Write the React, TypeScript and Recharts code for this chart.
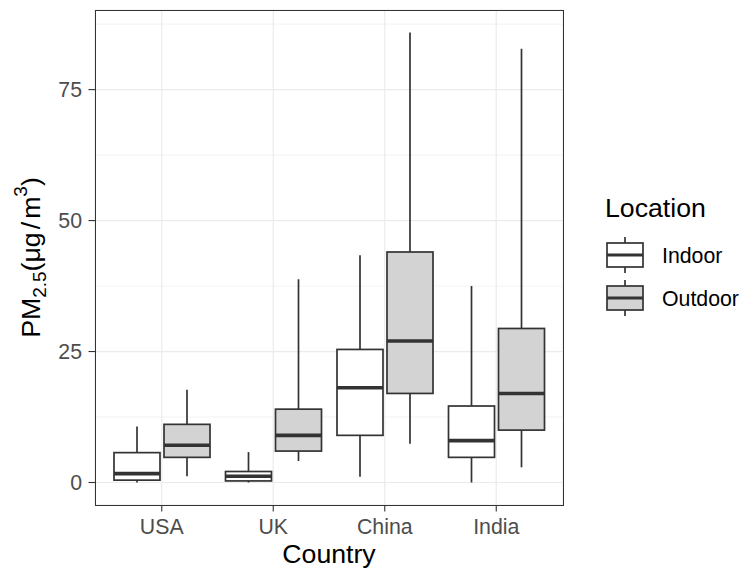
import React from 'react';
import {
  BarChart,
  Bar,
  XAxis,
  YAxis,
  CartesianGrid,
  Legend
} from 'recharts';

const countries = ['USA', 'UK', 'China', 'India'];

const indoorMin = [0, 0, 1.1, 0];
const indoorQ1 = [0.45, 0.3, 9.0, 4.8];
const indoorMedian = [1.7, 1.2, 18.1, 8.0];
const indoorQ3 = [5.7, 2.1, 25.4, 14.6];
const indoorMax = [10.7, 5.8, 43.4, 37.5];

const outdoorMin = [1.2, 4.1, 7.4, 2.9];
const outdoorQ1 = [4.8, 6.0, 17.0, 10.0];
const outdoorMedian = [7.1, 9.0, 27.0, 17.0];
const outdoorQ3 = [11.1, 14.0, 44.0, 29.4];
const outdoorMax = [17.7, 38.8, 85.9, 82.8];

const majorTicks = [0, 25, 50, 75];
const minorTicks = [12.5, 37.5, 62.5, 87.5];

const data = countries.map((country, i) => ({
  country,
  indoor: [indoorMin[i], indoorQ1[i], indoorMedian[i], indoorQ3[i], indoorMax[i]],
  outdoor: [outdoorMin[i], outdoorQ1[i], outdoorMedian[i], outdoorQ3[i], outdoorMax[i]]
}));

const FONT = '"Liberation Sans", Arial, Helvetica, sans-serif';
const INK = '#333333';

// box drawn inside the bar rect that spans whisker min..max
const BoxShape = (props: any) => {
  const { x, y, width, height, fill, payload, series } = props;
  if (x == null || y == null) return null;
  const [lo, q1, med, q3, hi] = payload[series];
  const top = Math.min(y, y + height);
  const bottom = Math.max(y, y + height);
  const pix = (v: number) => bottom - ((v - lo) / (hi - lo)) * (bottom - top);
  const cx = x + width / 2;
  return (
    <g>
      <line x1={cx} x2={cx} y1={top} y2={pix(q3)} stroke={INK} strokeWidth={1.7} />
      <line x1={cx} x2={cx} y1={pix(q1)} y2={bottom} stroke={INK} strokeWidth={1.7} />
      <rect
        x={x}
        y={pix(q3)}
        width={width}
        height={pix(q1) - pix(q3)}
        fill={fill}
        stroke={INK}
        strokeWidth={1.7}
      />
      <line x1={x} x2={x + width} y1={pix(med)} y2={pix(med)} stroke={INK} strokeWidth={3.6} />
    </g>
  );
};

const YTitle = (props: any) => {
  const vb = props.viewBox || { x: 0, y: 10, width: 95, height: 495 };
  const bx = 39.5;
  const cy = vb.y + vb.height / 2;
  return (
    <text
      x={bx}
      y={cy}
      transform={`rotate(-90, ${bx}, ${cy})`}
      textAnchor="middle"
      fontSize={26.7}
      fontFamily={FONT}
      fill="#000000"
    >
      <tspan>PM</tspan>
      <tspan fontSize={19} dy={6}>2.5</tspan>
      <tspan dy={-6}>(μg</tspan>
      <tspan dx={3}>/</tspan>
      <tspan dx={3}>m</tspan>
      <tspan fontSize={19} dy={-13}>3</tspan>
      <tspan dy={13}>)</tspan>
    </text>
  );
};

const LegendBox = (props: any) => {
  const items = props.payload || [];
  return (
    <svg width={144} height={140} style={{ display: 'block' }}>
      <text x={5} y={26.7} fontSize={26.7} fontFamily={FONT} fill="#000000">
        Location
      </text>
      {items.map((item: any, i: number) => {
        const c = 65 + i * 43;
        return (
          <g key={item.value}>
            <line x1={25} x2={25} y1={c - 18} y2={c + 18} stroke={INK} strokeWidth={1.7} />
            <rect x={7} y={c - 12} width={36} height={24} fill={item.color} stroke={INK} strokeWidth={1.7} />
            <line x1={7} x2={43} y1={c} y2={c} stroke={INK} strokeWidth={3.2} />
            <text x={62} y={c + 7.7} fontSize={21.3} fontFamily={FONT} fill="#000000">
              {item.value}
            </text>
          </g>
        );
      })}
    </svg>
  );
};

export default function App() {
  return (
    <div style={{ position: 'absolute', left: 0, top: 0, width: 744, height: 569, background: '#ffffff' }}>
      <BarChart
        width={744}
        height={569}
        data={data}
        margin={{ top: 10, right: 181, bottom: 0, left: 0 }}
        barSize={46}
        barGap={4}
        style={{ fontFamily: FONT }}
      >
        <CartesianGrid stroke="#EBEBEB" strokeWidth={0.6} vertical={false} horizontalValues={minorTicks} />
        <CartesianGrid stroke="#EBEBEB" strokeWidth={1.2} />
        <XAxis
          dataKey="country"
          type="category"
          padding={{ left: 11, right: 11 }}
          height={64}
          axisLine={false}
          tickSize={6.5}
          tickMargin={7}
          tickLine={{ stroke: INK, strokeWidth: 1.1 }}
          tick={{ fill: '#4D4D4D', fontSize: 21.3, fontFamily: FONT }}
          label={{ value: 'Country', position: 'insideBottom', offset: 6, fill: '#000000', fontSize: 26.7, fontFamily: FONT }}
        />
        <YAxis
          type="number"
          domain={[-4.295, 90.195]}
          ticks={majorTicks}
          allowDataOverflow
          width={95}
          axisLine={false}
          tickSize={6.5}
          tickMargin={6.5}
          tickLine={{ stroke: INK, strokeWidth: 1.1 }}
          tick={{ fill: '#4D4D4D', fontSize: 21.3, fontFamily: FONT }}
          label={<YTitle />}
        />
        <Legend
          layout="vertical"
          align="center"
          verticalAlign="middle"
          wrapperStyle={{ left: 600, top: 190, width: 144, height: 140 }}
          content={<LegendBox />}
        />
        <Bar
          name="Indoor"
          dataKey={(d: any) => [d.indoor[0], d.indoor[4]]}
          fill="#FFFFFF"
          isAnimationActive={false}
          shape={(p: any) => <BoxShape {...p} series="indoor" />}
        />
        <Bar
          name="Outdoor"
          dataKey={(d: any) => [d.outdoor[0], d.outdoor[4]]}
          fill="#D3D3D3"
          isAnimationActive={false}
          shape={(p: any) => <BoxShape {...p} series="outdoor" />}
        />
      </BarChart>
      <div
        style={{
          position: 'absolute',
          left: 94.5,
          top: 9.5,
          width: 469,
          height: 496,
          boxSizing: 'border-box',
          border: `1.1px solid ${INK}`,
          pointerEvents: 'none'
        }}
      />
    </div>
  );
}
